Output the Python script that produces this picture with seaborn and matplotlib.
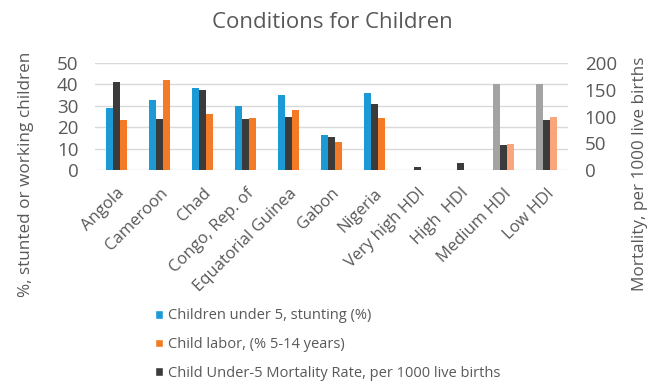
import matplotlib
matplotlib.use("Agg")
import matplotlib.pyplot as plt
import numpy as np
import pandas as pd
import seaborn as sns
from matplotlib.patches import Patch
from matplotlib.colors import to_rgba

categories = ["Angola", "Cameroon", "Chad", "Congo, Rep. of", "Equatorial Guinea",
              "Gabon", "Nigeria", "Very high HDI", "High  HDI", "Medium HDI", "Low HDI"]
stunting = [29, 32.5, 38.5, 30, 35, 16.5, 36, None, None, 40, 40]
child_labor = [23.5, 42, 26, 24.5, 28, 13, 24.5, None, None, 12, 25]
mortality = [164, 95, 150, 96, 100, 61, 124, 6, 14, 46, 94]

s_stunt = "Children under 5, stunting (%)"
s_labor = "Child labor, (% 5-14 years)"
s_mort = "Child Under-5 Mortality Rate, per 1000 live births"
hue_order = [s_stunt, s_mort, s_labor]
muted_groups = ["Medium HDI", "Low HDI"]

BLUE = "#1c9ad6"
ORANGE = "#f47a26"
DARK = "#3b3b3b"
GRAY = "#a3a3a3"
LIGHT_ORANGE = "#f9a67c"
TEXT = "#595959"
GRID = "#d9d9d9"

palette = {s_stunt: BLUE, s_mort: DARK, s_labor: ORANGE}

rows = []
for c, s, l in zip(categories, stunting, child_labor):
    if s is not None:
        rows.append((c, s_stunt, s))
    if l is not None:
        rows.append((c, s_labor, l))
left_df = pd.DataFrame(rows, columns=["country", "series", "value"])
right_df = pd.DataFrame({"country": categories, "series": s_mort, "value": mortality})

sns.set_theme(style="white")
plt.rcParams["font.family"] = ["Open Sans", "DejaVu Sans"]

fig = plt.figure(figsize=(6.57, 3.81), dpi=100)
ax = fig.add_axes([95 / 657, 1 - 170 / 381, 473 / 657, 107 / 381])
ax2 = ax.twinx()

bar_kw = dict(x="country", y="value", hue="series", hue_order=hue_order,
              order=categories, palette=palette, width=0.5, saturation=1,
              dodge=True, legend=False, linewidth=0)
sns.barplot(data=left_df, ax=ax, **bar_kw)
sns.barplot(data=right_df, ax=ax2, **bar_kw)

# Aggregate groups are shown in muted tones
muted_idx = [categories.index(g) for g in muted_groups]
for p in ax.patches:
    i = int(round(p.get_x() + p.get_width() / 2))
    if i in muted_idx:
        fc = p.get_facecolor()
        if np.allclose(fc, to_rgba(BLUE)):
            p.set_facecolor(GRAY)
        elif np.allclose(fc, to_rgba(ORANGE)):
            p.set_facecolor(LIGHT_ORANGE)

ax.set_ylim(0, 50)
ax.set_yticks(range(0, 51, 10))
ax2.set_ylim(0, 200)
ax2.set_yticks(range(0, 201, 50))
ax.set_xlim(-0.5, len(categories) - 0.5)

ax.yaxis.grid(True, color=GRID, linewidth=1)
ax.set_axisbelow(True)
ax2.grid(False)
for a in (ax, ax2):
    for sp in a.spines.values():
        sp.set_visible(False)
    a.set_xlabel("")
    a.set_ylabel("")
ax.tick_params(axis="y", length=0, labelsize=13.5, labelcolor=TEXT, pad=12)
ax2.tick_params(axis="y", length=0, labelsize=13.5, labelcolor=TEXT, pad=12)
ax.tick_params(axis="x", length=0, labelsize=12, labelcolor=TEXT, pad=11)
ax.set_xticks(range(len(categories)))
ax.set_xticklabels(categories, rotation=45, ha="right", rotation_mode="anchor")

fig.text(332 / 657, 1 - 23 / 381, "Conditions for Children", ha="center", va="center",
         fontsize=16, color=TEXT)
fig.text(26 / 657, 1 - 174 / 381, "%, stunted or working children", rotation=90,
         ha="center", va="center", fontsize=12.3, color=TEXT)
fig.text(640 / 657, 1 - 174 / 381, "Mortality, per 1000 live births", rotation=90,
         ha="center", va="center", fontsize=12.3, color=TEXT)

handles = [Patch(facecolor=BLUE, label=s_stunt),
           Patch(facecolor=ORANGE, label=s_labor),
           Patch(facecolor=DARK, label=s_mort)]
fig.legend(handles=handles, loc="upper left", bbox_to_anchor=(148 / 657, 1 - 301 / 381),
           frameon=False, fontsize=10.5, labelcolor=TEXT, handlelength=0.55,
           handleheight=0.55, handletextpad=0.3, labelspacing=0.95, borderpad=0)

fig.savefig("out.png", dpi=100)
